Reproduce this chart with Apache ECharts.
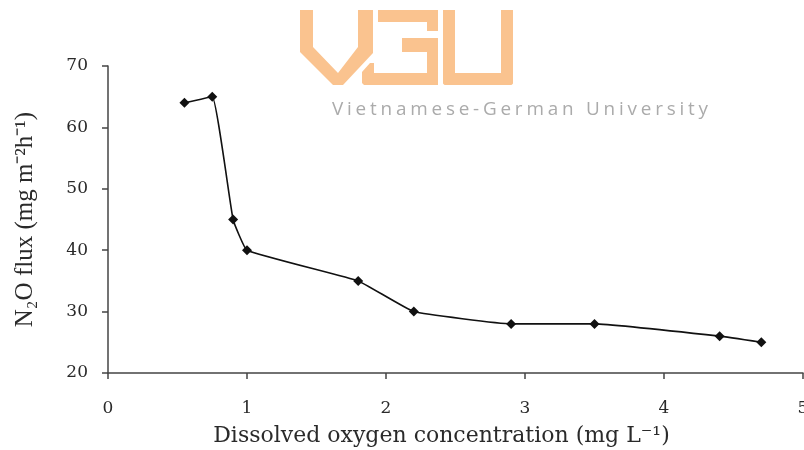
<!DOCTYPE html>
<html>
<head>
<meta charset="utf-8">
<script src="https://cdn.jsdelivr.net/npm/echarts@6/dist/echarts.min.js"></script>
<style>
  html, body { margin: 0; padding: 0; background: #fff; }
  #chart { width: 804px; height: 450px; }
</style>
</head>
<body>
<div id="chart"></div>
<script>
// dissolved oxygen (mg/L) vs N2O flux
const oxygen = [0.55, 0.75, 0.9, 1.0, 1.8, 2.2, 2.9, 3.5, 4.4, 4.7];
const n2oFlux = [64, 65, 45, 40, 35, 30, 28, 28, 26, 25];

const xTitle = 'Dissolved oxygen concentration (mg L\u207B\u00B9)';
const yTitle = 'N\u2082O flux (mg m\u207B\u00B2h\u207B\u00B9)';
const watermark = 'Vietnamese-German University';

var myChart = echarts.init(document.getElementById('chart'));

// watermark logo colour
const logoColor = '#fac38f';

// spread the watermark letters out (zrender has no letter-spacing),
// stretched horizontally a little like the scanned picture
function spacedText(str, x0, y0, totalWidth, size, family, color, stretch) {
  const ctx = document.createElement('canvas').getContext('2d');
  ctx.font = size + 'px ' + family;
  const widths = str.split('').map(c => ctx.measureText(c).width);
  const sum = widths.reduce((a, b) => a + b, 0);
  const gap = (totalWidth / stretch - sum) / (str.length - 1);
  let x = 0;
  return str.split('').map((c, i) => {
    const el = {
      type: 'text',
      x: x0 + x * stretch,
      y: y0,
      scaleX: stretch,
      style: { text: c, fontSize: size, fontFamily: family, fill: color }
    };
    x += widths[i] + gap;
    return el;
  });
}

const logo = [
  // V
  { type: 'polygon', shape: { points: [[300, 10], [313, 10], [313, 47], [338, 73], [358, 47], [358, 10], [373, 10], [373, 53], [343, 85], [333, 85], [300, 52]] }, style: { fill: logoColor } },
  // G
  { type: 'rect', shape: { x: 378, y: 10, width: 60, height: 12 }, style: { fill: logoColor } },
  { type: 'rect', shape: { x: 427, y: 10, width: 11, height: 21 }, style: { fill: logoColor } },
  { type: 'rect', shape: { x: 402, y: 38, width: 36, height: 14 }, style: { fill: logoColor } },
  { type: 'rect', shape: { x: 427, y: 38, width: 11, height: 47, r: [0, 0, 2, 0] }, style: { fill: logoColor } },
  { type: 'polygon', shape: { points: [[362, 72], [370, 63], [374, 63], [374, 73], [438, 73], [438, 85], [364, 85], [362, 83]] }, style: { fill: logoColor } },
  // U
  { type: 'rect', shape: { x: 443, y: 10, width: 12, height: 75, r: [0, 0, 0, 3] }, style: { fill: logoColor } },
  { type: 'rect', shape: { x: 443, y: 73, width: 70, height: 12, r: [0, 0, 3, 3] }, style: { fill: logoColor } },
  { type: 'rect', shape: { x: 501, y: 10, width: 12, height: 75, r: [0, 0, 3, 0] }, style: { fill: logoColor } }
];

const axisStyle = { color: '#444', width: 1.5 };
const labelStyle = { fontFamily: 'DejaVu Serif', fontSize: 17, color: '#2a2a2a' };

var option = {
  animation: false,
  backgroundColor: '#fff',
  grid: { left: 108, right: 1, top: 66, bottom: 77, outerBoundsMode: 'none', containLabel: false },
  xAxis: {
    type: 'value',
    min: 0,
    max: 5,
    interval: 1,
    name: xTitle,
    nameLocation: 'middle',
    nameGap: 52,
    nameTextStyle: { fontFamily: 'DejaVu Serif', fontSize: 22, color: '#2a2a2a', padding: [0, 28, 0, 0] },
    axisLine: { lineStyle: axisStyle },
    axisTick: { inside: false, length: 6, lineStyle: axisStyle },
    axisLabel: Object.assign({ margin: 27 }, labelStyle),
    splitLine: { show: false }
  },
  yAxis: {
    type: 'value',
    min: 20,
    max: 70,
    interval: 10,
    name: yTitle,
    nameLocation: 'middle',
    nameRotate: 90,
    nameGap: 70,
    nameTextStyle: { fontFamily: 'Liberation Serif', fontSize: 25, color: '#2a2a2a' },
    axisLine: { show: true, lineStyle: axisStyle },
    axisTick: { show: true, inside: false, length: 6, lineStyle: axisStyle },
    axisLabel: Object.assign({ margin: 20 }, labelStyle),
    splitLine: { show: false }
  },
  series: [
    {
      type: 'line',
      data: oxygen.map((x, i) => [x, n2oFlux[i]]),
      symbol: 'diamond',
      symbolSize: 10,
      smooth: 0.1,
      lineStyle: { color: '#111', width: 1.6 },
      itemStyle: { color: '#111' }
    }
  ],
  graphic: logo.concat(spacedText(watermark, 332, 101, 376, 18, 'Open Sans', '#ababab', 1.05))
};

myChart.setOption(option);
</script>
</body>
</html>
